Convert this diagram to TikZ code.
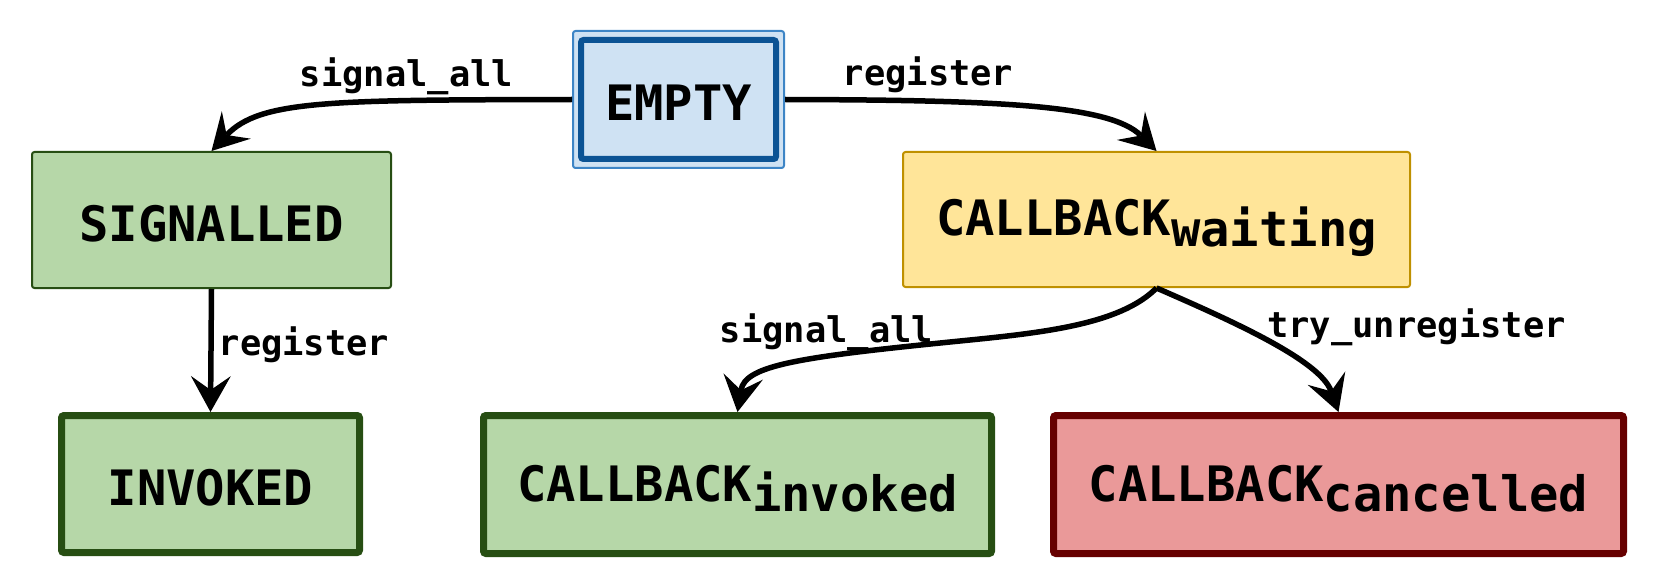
\documentclass[tikz,border=0pt]{standalone}
\usepackage{fontspec}
\setmonofont{DejaVu Sans Mono}
\usetikzlibrary{arrows.meta,backgrounds,calc}
\definecolor{bfill}{HTML}{CFE2F3}
\definecolor{bline}{HTML}{0B5394}
\definecolor{bouter}{HTML}{3D85C6}
\definecolor{gfill}{HTML}{B6D7A8}
\definecolor{gline}{HTML}{274E13}
\definecolor{yfill}{HTML}{FFE599}
\definecolor{yline}{HTML}{BF9000}
\definecolor{rfill}{HTML}{EA9999}
\definecolor{rline}{HTML}{660000}
\newcommand\lowsub[1]{\raisebox{-10.5pt}{#1}}
\newcommand\nodefnt{\ttfamily\bfseries\fontsize{48.8pt}{58pt}\selectfont}
\newcommand\lblfnt{\ttfamily\bfseries\fontsize{35.4pt}{42pt}\selectfont}
\begin{document}
\begin{tikzpicture}[x=1pt,y=-1pt,
  box/.style={rectangle, rounded corners=2.5pt, inner sep=0pt, font=\nodefnt,
              text height=42pt, text depth=0pt},
  subbox/.style={box, text depth=9pt},
  thinline/.style={line width=2pt},
  heavyline/.style={line width=7pt},
  bluest/.style={fill=bfill, draw=bline, line width=6pt},
  greenst/.style={fill=gfill, draw=gline},
  yellowst/.style={fill=yfill, draw=yline},
  redst/.style={fill=rfill, draw=rline},
  lbl/.style={font=\lblfnt, inner sep=0pt, anchor=base},
  arr/.style={line width=5.5pt, -{Stealth[length=36pt,width=40pt,inset=14pt,line width=0pt]}}
]
\useasboundingbox (0,0) rectangle (1659,588);

% nodes
\node[box, bluest, minimum width=195pt, minimum height=119pt] (empty) at (678.5,99.5) {EMPTY};
\begin{scope}[on background layer]
  \draw[fill=bfill, draw=bouter, line width=2pt, rounded corners=2.5pt]
    ($(empty.south west)+(-5,6)$) rectangle ($(empty.north east)+(5,-6)$);
\end{scope}
\node[box, greenst, thinline, minimum width=359pt, minimum height=136pt] (signalled) at (211.5,220) {SIGNALLED};
\node[subbox, yellowst, thinline, minimum width=507pt, minimum height=135pt] (waiting) at (1156.5,219.5) {CALLBACK\lowsub{waiting}};
\node[box, greenst, heavyline, minimum width=298pt, minimum height=137pt] (invokedst) at (210.5,484) {INVOKED};
\node[subbox, greenst, heavyline, minimum width=508pt, minimum height=138pt] (cbinvoked) at (737.5,484.5) {CALLBACK\lowsub{invoked}};
\node[subbox, redst, heavyline, minimum width=570pt, minimum height=138pt] (cbcancel) at (1338.5,484.5) {CALLBACK\lowsub{cancelled}};

% edges
\draw[arr] ($(empty.west)+(-6,0)$) .. controls (330,100) and (260,100) .. (signalled.north);
\draw[arr] ($(empty.east)+(6,0)$) .. controls (1000,100) and (1110,105) .. (waiting.north);
\draw[arr] (signalled.south) -- (invokedst.north);
\draw[arr] (waiting.south) .. controls (1120,325) and (1040,333) .. (960,341)
                           .. controls (800,357) and (745,365) .. (cbinvoked.north);
\draw[arr] (waiting.south) .. controls (1230,320) and (1320,360) .. (cbcancel.north);

% labels
\node[lbl] (lab1) at (406.5,87) {signal\_all};
\node[lbl] (lab2) at (928,86) {register};
\node[lbl] (lab3) at (304,355) {register};
\node[lbl] (lab4) at (826.5,342) {signal\_all};
\node[lbl] (lab5) at (1416.5,337) {try\_unregister};
\end{tikzpicture}
\end{document}
